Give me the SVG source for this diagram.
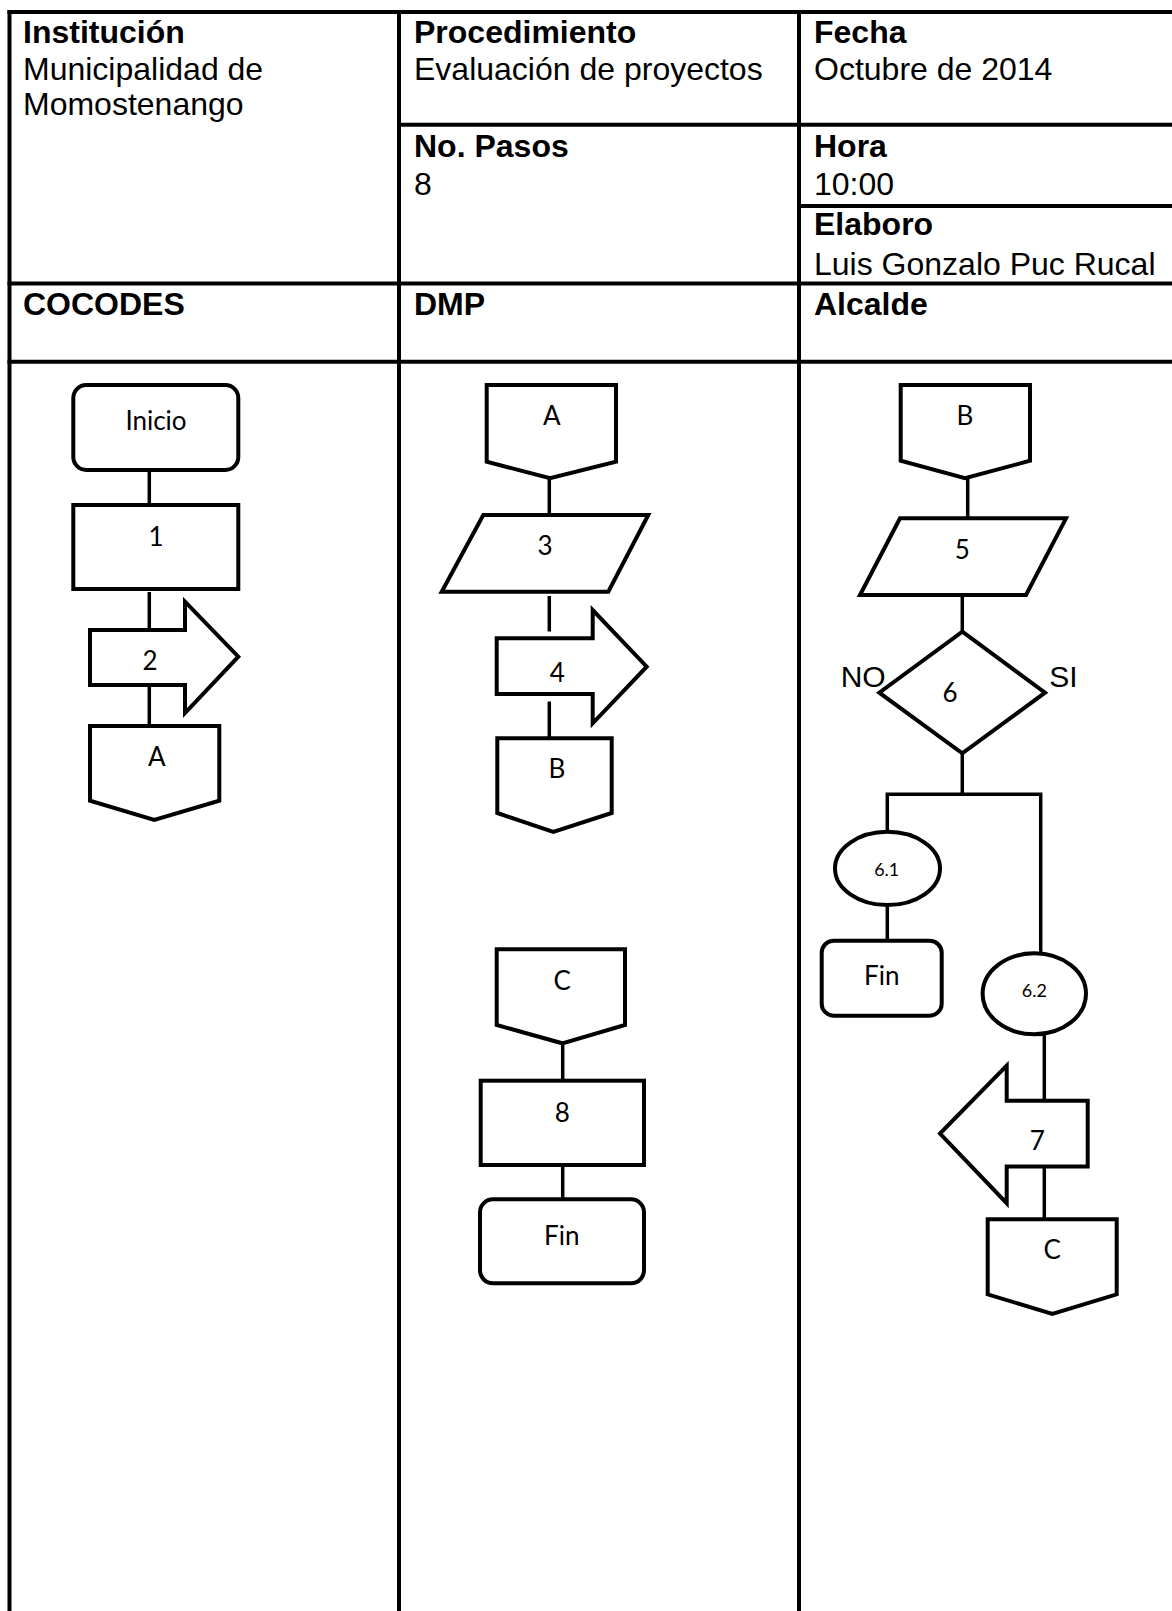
<svg xmlns="http://www.w3.org/2000/svg" width="1172" height="1611" viewBox="0 0 1172 1611">
  <style>
    .grid { stroke: #000; stroke-width: 4; fill: none; }
    .hd { font-family: "Liberation Sans", Arial, sans-serif; font-size: 32px; font-weight: bold; fill: #000; }
    .tx { font-family: "Liberation Sans", Arial, sans-serif; font-size: 32px; fill: #000; }
    .shape { fill: #fff; stroke: #000; stroke-width: 4; stroke-linejoin: miter; }
    .conn { stroke: #000; stroke-width: 3.5; fill: none; }
    .lbl { font-family: Lato, "Open Sans", sans-serif; font-size: 26px; fill: #000; text-anchor: middle; }
    .sm { font-size: 18px; }
    .yn { font-family: "Liberation Sans", Arial, sans-serif; font-size: 30px; fill: #000; }
  </style>

  <rect width="1172" height="1611" fill="#fff"/>

  <!-- header table and swimlane grid -->
  <g id="table">
    <line class="grid" x1="9.5" y1="10" x2="9.5" y2="1611"/>
    <line class="grid" x1="399" y1="10" x2="399" y2="1611"/>
    <line class="grid" x1="799" y1="10" x2="799" y2="1611"/>
    <line class="grid" x1="7.5" y1="12" x2="1172" y2="12"/>
    <line class="grid" x1="399" y1="124.7" x2="1172" y2="124.7"/>
    <line class="grid" x1="799" y1="206" x2="1172" y2="206"/>
    <line class="grid" x1="7.5" y1="283.5" x2="1172" y2="283.5"/>
    <line class="grid" x1="7.5" y1="361.7" x2="1172" y2="361.7"/>

    <text class="hd" x="23" y="43">Institución</text>
    <text class="tx" x="23" y="80">Municipalidad de</text>
    <text class="tx" x="23" y="115">Momostenango</text>

    <text class="hd" x="414" y="43">Procedimiento</text>
    <text class="tx" x="414" y="80">Evaluación de proyectos</text>

    <text class="hd" x="814" y="43">Fecha</text>
    <text class="tx" x="814" y="80">Octubre de 2014</text>

    <text class="hd" x="414" y="157">No. Pasos</text>
    <text class="tx" x="414" y="195">8</text>

    <text class="hd" x="814" y="157">Hora</text>
    <text class="tx" x="814" y="195">10:00</text>

    <text class="hd" x="814" y="235">Elaboro</text>
    <text class="tx" x="814" y="275">Luis Gonzalo Puc Rucal</text>

    <text class="hd" x="23" y="315">COCODES</text>
    <text class="hd" x="414" y="315">DMP</text>
    <text class="hd" x="814" y="315">Alcalde</text>
  </g>

  <!-- connectors -->
  <g id="connectors">
    <line class="conn" x1="149.3" y1="470" x2="149.3" y2="505"/>
    <line class="conn" x1="149.3" y1="592" x2="149.3" y2="630"/>
    <line class="conn" x1="149.3" y1="686" x2="149.3" y2="726"/>

    <line class="conn" x1="549.3" y1="478" x2="549.3" y2="515"/>
    <line class="conn" x1="549.3" y1="596" x2="549.3" y2="631.5"/>
    <line class="conn" x1="549.3" y1="701.5" x2="549.3" y2="738"/>

    <line class="conn" x1="562.7" y1="1043" x2="562.7" y2="1080.7"/>
    <line class="conn" x1="562.7" y1="1165" x2="562.7" y2="1199.3"/>

    <line class="conn" x1="967.7" y1="478" x2="967.7" y2="518.3"/>
    <line class="conn" x1="962.3" y1="596.7" x2="962.3" y2="631.7"/>
    <line class="conn" x1="962.3" y1="753" x2="962.3" y2="794.3"/>
    <path class="conn" d="M887.3,831.8 V794.3 H1040.7 V953.2"/>
    <line class="conn" x1="887.3" y1="905" x2="887.3" y2="940.7"/>
    <line class="conn" x1="1044.3" y1="1034.3" x2="1044.3" y2="1100.7"/>
    <line class="conn" x1="1044.3" y1="1166.4" x2="1044.3" y2="1219.3"/>
  </g>

  <!-- COCODES lane -->
  <g id="inicio">
    <rect class="shape" x="73.3" y="385" width="165" height="85" rx="13"/>
    <text class="lbl" x="156" y="430">Inicio</text>
  </g>
  <g id="paso1">
    <rect class="shape" x="73.3" y="505" width="165" height="84"/>
    <text class="lbl" x="156" y="546">1</text>
  </g>
  <g id="paso2">
    <polygon class="shape" points="90,630 185,630 185,601.7 238.3,656.7 185,713 185,685 90,685"/>
    <text class="lbl" x="150" y="670">2</text>
  </g>
  <g id="conector-a-salida">
    <path class="shape" d="M90,726 H219.3 V800.7 L154.3,820 L90,800.7 Z"/>
    <text class="lbl" x="156.7" y="766">A</text>
  </g>

  <!-- DMP lane -->
  <g id="conector-a-entrada">
    <path class="shape" d="M486.7,385 H616 V461.7 L550,478.3 L486.7,461.7 Z"/>
    <text class="lbl" x="551.7" y="425">A</text>
  </g>
  <g id="paso3">
    <polygon class="shape" points="483.3,515 648.3,515 608.3,591.7 441.7,591.7"/>
    <text class="lbl" x="545" y="555">3</text>
  </g>
  <g id="paso4">
    <polygon class="shape" points="496.7,638.3 592.7,638.3 592.7,610 646.7,666.7 592.7,723.3 592.7,694 496.7,694"/>
    <text class="lbl" x="557.3" y="681.7">4</text>
  </g>
  <g id="conector-b-salida">
    <path class="shape" d="M497.3,738.3 H611.7 V813 L553.3,832 L497.3,813 Z"/>
    <text class="lbl" x="557" y="778">B</text>
  </g>
  <g id="conector-c-entrada">
    <path class="shape" d="M496.7,949.3 H625 V1025 L562.3,1043.3 L496.7,1025 Z"/>
    <text class="lbl" x="562.3" y="990">C</text>
  </g>
  <g id="paso8">
    <rect class="shape" x="480.7" y="1080.7" width="163.3" height="84.3"/>
    <text class="lbl" x="562.3" y="1121.7">8</text>
  </g>
  <g id="fin-dmp">
    <rect class="shape" x="480" y="1199.3" width="164" height="84" rx="13"/>
    <text class="lbl" x="561.7" y="1245">Fin</text>
  </g>

  <!-- Alcalde lane -->
  <g id="conector-b-entrada">
    <path class="shape" d="M900.7,385 H1030 V460.7 L965,478.3 L900.7,460.7 Z"/>
    <text class="lbl" x="965" y="425">B</text>
  </g>
  <g id="paso5">
    <polygon class="shape" points="900,518.3 1066,518.3 1026,595 860,595"/>
    <text class="lbl" x="962.3" y="559">5</text>
  </g>
  <g id="paso6">
    <polygon class="shape" points="962.3,631.7 1045,692.7 962.3,753.3 879.3,692.7"/>
    <text class="lbl" x="950" y="701.7">6</text>
    <text class="yn" x="840.7" y="686.7">NO</text>
    <text class="yn" x="1049.3" y="686.7">SI</text>
  </g>
  <g id="paso6-1">
    <ellipse class="shape" cx="887.5" cy="868.4" rx="52.5" ry="36.6"/>
    <text class="lbl sm" x="886.7" y="875.7">6.1</text>
  </g>
  <g id="fin-alcalde">
    <rect class="shape" x="821.7" y="940.7" width="120" height="75" rx="12"/>
    <text class="lbl" x="881.7" y="985.4">Fin</text>
  </g>
  <g id="paso6-2">
    <ellipse class="shape" cx="1034.3" cy="993.8" rx="51.7" ry="40.5"/>
    <text class="lbl sm" x="1034.3" y="997.1">6.2</text>
  </g>
  <g id="paso7">
    <polygon class="shape" points="1087.7,1100.7 1006.7,1100.7 1006.7,1065.7 940,1133.6 1006.7,1203.2 1006.7,1166.4 1087.7,1166.4"/>
    <text class="lbl" x="1037.3" y="1149.6">7</text>
  </g>
  <g id="conector-c-salida">
    <path class="shape" d="M987.7,1219.3 H1116.7 V1294.3 L1052.3,1313.9 L987.7,1294.3 Z"/>
    <text class="lbl" x="1052.3" y="1258.6">C</text>
  </g>
</svg>
